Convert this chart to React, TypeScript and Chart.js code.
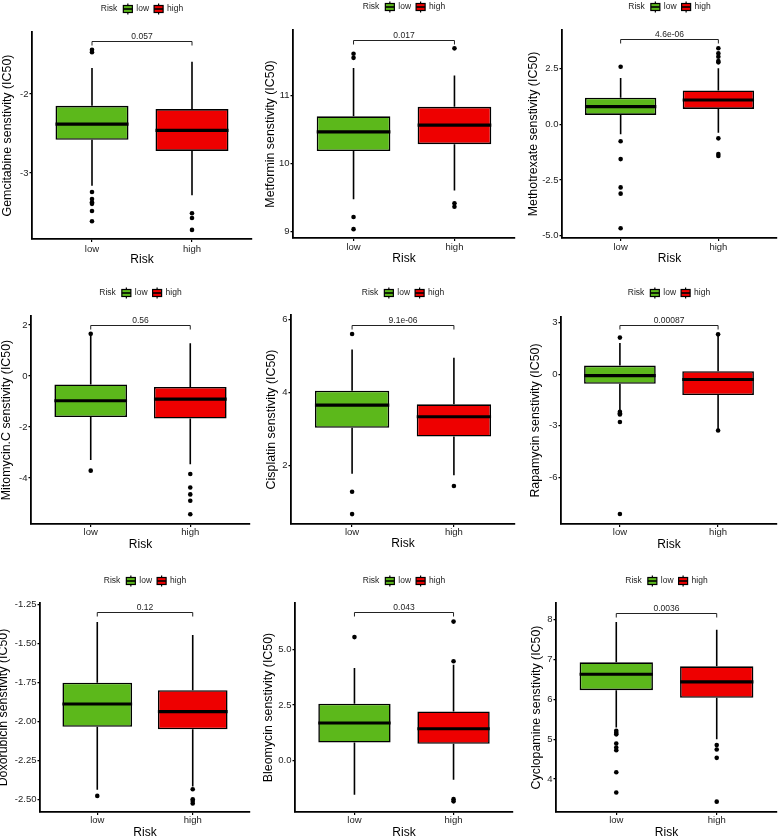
import React, { useEffect, useRef } from "react";
import { Chart, registerables } from "chart.js";

Chart.register(...registerables);

const FONT = "'Liberation Sans', Arial, Helvetica, sans-serif";

const groups = ["low", "high"];
const groupColors = ["#5CB81B", "#EE0000"];
const drugs = [
  "Gemcitabine",
  "Metformin",
  "Methotrexate",
  "Mitomycin.C",
  "Cisplatin",
  "Rapamycin",
  "Doxorubicin",
  "Bleomycin",
  "Cyclopamine",
];
const pValues = ["0.057", "0.017", "4.6e-06", "0.56", "9.1e-06", "0.00087", "0.12", "0.043", "0.0036"];

// [lower whisker, Q1, median, Q3, upper whisker]
const lowBoxes = [
  [-3.16, -2.58, -2.38, -2.15, -1.67],
  [9.47, 10.18, 10.46, 10.69, 11.4],
  [-0.45, 0.42, 0.79, 1.19, 2.08],
  [-3.29, -1.61, -0.97, -0.33, 1.58],
  [1.78, 3.04, 3.66, 4.05, 5.18],
  [-2.09, -0.56, -0.08, 0.5, 1.82],
  [-2.438, -2.034, -1.888, -1.752, -1.363],
  [-1.55, 0.81, 1.69, 2.56, 4.17],
  [5.29, 6.23, 6.63, 6.93, 7.94],
];
const highBoxes = [
  [-3.28, -2.72, -2.46, -2.19, -1.59],
  [9.6, 10.28, 10.56, 10.83, 11.29],
  [-0.38, 0.69, 1.09, 1.52, 2.51],
  [-3.46, -1.67, -0.91, -0.43, 1.28],
  [1.74, 2.8, 3.34, 3.68, 4.95],
  [-3.2, -1.22, -0.31, 0.17, 2.25],
  [-2.417, -2.05, -1.937, -1.8, -1.446],
  [-0.87, 0.75, 1.43, 2.21, 4.32],
  [5.0, 6.04, 6.44, 6.83, 7.75],
];
const lowOutliers = [
  [-1.44, -1.47, -3.24, -3.33, -3.37, -3.39, -3.48, -3.61],
  [11.61, 11.55, 9.21, 9.03],
  [2.58, -0.76, -1.56, -2.83, -3.11, -4.66],
  [1.65, -3.71],
  [5.6, 1.29, 0.68],
  [2.13, -2.19, -2.28, -2.35, -2.79, -8.15],
  [-2.477],
  [5.57],
  [5.21, 5.16, 5.12, 4.89, 4.79, 4.72, 4.17, 3.66],
];
const highOutliers = [
  [-3.51, -3.57, -3.72],
  [11.69, 9.41, 9.36],
  [3.41, 3.18, 3.03, 2.84, 2.78, -0.63, -1.33, -1.42],
  [-3.84, -4.37, -4.64, -4.89, -5.42],
  [1.45],
  [2.32, -3.28],
  [-2.434, -2.498, -2.51, -2.525],
  [4.48, 6.27, -1.75, -1.85],
  [4.85, 4.74, 4.53, 3.43],
];
const bracketLevels = [-1.33, 11.82, 3.81, 2.0, 5.84, 2.85, -1.3, 6.69, 8.18];
const yMins = [-3.835, 8.9, -5.1, -5.8, 0.41, -8.73, -2.58, -2.33, 3.17];
const yMaxs = [-1.215, 11.96, 4.23, 2.35, 6.12, 3.33, -1.241, 7.11, 8.42];
const yTickValues = [
  [-3, -2],
  [9, 10, 11],
  [-5, -2.5, 0, 2.5],
  [-4, -2, 0, 2],
  [2, 4, 6],
  [-6, -3, 0, 3],
  [-2.5, -2.25, -2, -1.75, -1.5, -1.25],
  [0, 2.5, 5],
  [4, 5, 6, 7, 8],
];
const yTickLabels = [
  ["-3", "-2"],
  ["9", "10", "11"],
  ["-5.0", "-2.5", "0.0", "2.5"],
  ["-4", "-2", "0", "2"],
  ["2", "4", "6"],
  ["-6", "-3", "0", "3"],
  ["-2.50", "-2.25", "-2.00", "-1.75", "-1.50", "-1.25"],
  ["0.0", "2.5", "5.0"],
  ["4", "5", "6", "7", "8"],
];

// panel layout (pixels): canvas box, plot area edges, title/label centres
const PANELS = [
  { x: 0, y: 0, w: 260, h: 280, l: 32, t: 32, r: 252, b: 239, ytx: 7.5, leg: 9, xtc: 260, xkc: 249 },
  { x: 260, y: 0, w: 260, h: 280, l: 33, t: 30, r: 255, b: 238, ytx: 10.5, leg: 7, xtc: 259, xkc: 247 },
  { x: 520, y: 0, w: 261, h: 280, l: 42, t: 30, r: 257, b: 238, ytx: 14, leg: 7, xtc: 259, xkc: 247 },
  { x: 0, y: 280, w: 260, h: 280, l: 31, t: 36, r: 250, b: 244, ytx: 7, leg: 13, xtc: 264.3, xkc: 252.5 },
  { x: 260, y: 280, w: 260, h: 280, l: 31, t: 35, r: 255, b: 244, ytx: 11.5, leg: 13, xtc: 263.3, xkc: 252.3 },
  { x: 520, y: 280, w: 261, h: 280, l: 41, t: 37, r: 260, b: 244, ytx: 16, leg: 13, xtc: 264.3, xkc: 252.3 },
  { x: 0, y: 560, w: 260, h: 278, l: 40, t: 43, r: 250, b: 252, ytx: 4, leg: 21, xtc: 273, xkc: 260.7 },
  { x: 260, y: 560, w: 260, h: 278, l: 35, t: 43, r: 253, b: 252, ytx: 8.5, leg: 21, xtc: 273, xkc: 260.7 },
  { x: 520, y: 560, w: 261, h: 278, l: 36, t: 43, r: 260, b: 252, ytx: 16.7, leg: 21, xtc: 273, xkc: 260.7 },
];

function Panel({ idx }: { idx: number }) {
  const ref = useRef<HTMLCanvasElement>(null);
  const P = PANELS[idx];

  useEffect(() => {
    const canvas = ref.current;
    if (!canvas) return;
    const stats = [lowBoxes[idx], highBoxes[idx]];

    const extras = {
      id: "boxExtras",
      beforeDatasetsDraw(chart: any) {
        const { ctx } = chart;
        const x = chart.scales.x;
        const y = chart.scales.y;
        ctx.save();
        ctx.strokeStyle = "#000";
        ctx.lineWidth = 1.6;
        stats.forEach((s, j) => {
          const px = x.getPixelForValue(j + 1);
          ctx.beginPath();
          ctx.moveTo(px, y.getPixelForValue(s[0]));
          ctx.lineTo(px, y.getPixelForValue(s[1]));
          ctx.moveTo(px, y.getPixelForValue(s[3]));
          ctx.lineTo(px, y.getPixelForValue(s[4]));
          ctx.stroke();
        });
        ctx.restore();
      },
      afterDatasetsDraw(chart: any) {
        const { ctx } = chart;
        const x = chart.scales.x;
        const y = chart.scales.y;
        const meta = chart.getDatasetMeta(0);
        ctx.save();
        ctx.strokeStyle = "#000";
        ctx.lineWidth = 3.2;
        stats.forEach((s, j) => {
          const el = meta.data[j];
          const py = y.getPixelForValue(s[2]);
          ctx.beginPath();
          ctx.moveTo(el.x - el.width / 2, py);
          ctx.lineTo(el.x + el.width / 2, py);
          ctx.stroke();
        });
        const yb = Math.round(y.getPixelForValue(bracketLevels[idx])) + 0.5;
        const x1 = x.getPixelForValue(1);
        const x2 = x.getPixelForValue(2);
        ctx.strokeStyle = "#222";
        ctx.lineWidth = 1;
        ctx.beginPath();
        ctx.moveTo(x1, yb + 4);
        ctx.lineTo(x1, yb);
        ctx.lineTo(x2, yb);
        ctx.lineTo(x2, yb + 4);
        ctx.stroke();
        ctx.fillStyle = "#222";
        ctx.font = `8.5px ${FONT}`;
        ctx.textAlign = "center";
        ctx.textBaseline = "alphabetic";
        ctx.fillText(pValues[idx], (x1 + x2) / 2, yb - 2.5);
        ctx.restore();
      },
      afterDraw(chart: any) {
        const { ctx, chartArea } = chart;
        ctx.save();
        ctx.font = `8.5px ${FONT}`;
        const title = "Risk";
        const kw = 9;
        const wT = ctx.measureText(title).width;
        const wL = ctx.measureText(groups[0]).width;
        const wH = ctx.measureText(groups[1]).width;
        const total = wT + 6 + kw + 4 + wL + 5 + kw + 4 + wH;
        let xx = (chartArea.left + chartArea.right) / 2 - total / 2;
        const cy = P.leg;
        ctx.fillStyle = "#222";
        ctx.textBaseline = "middle";
        ctx.textAlign = "left";
        const key = (x0: number, color: string) => {
          ctx.strokeStyle = "#000";
          ctx.lineWidth = 1.2;
          ctx.beginPath();
          ctx.moveTo(x0 + kw / 2, cy - 5.5);
          ctx.lineTo(x0 + kw / 2, cy + 5.5);
          ctx.stroke();
          ctx.fillStyle = color;
          ctx.fillRect(x0, cy - 3.5, kw, 7);
          ctx.strokeRect(x0, cy - 3.5, kw, 7);
          ctx.lineWidth = 1.6;
          ctx.beginPath();
          ctx.moveTo(x0, cy);
          ctx.lineTo(x0 + kw, cy);
          ctx.stroke();
          ctx.fillStyle = "#222";
        };
        ctx.fillText(title, xx, cy);
        xx += wT + 6;
        key(xx, groupColors[0]);
        xx += kw + 4;
        ctx.fillText(groups[0], xx, cy);
        xx += wL + 5;
        key(xx, groupColors[1]);
        xx += kw + 4;
        ctx.fillText(groups[1], xx, cy);
        ctx.restore();
      },
    };

    const chart = new Chart(canvas, {
      type: "bar",
      data: {
        datasets: [
          {
            type: "bar",
            data: stats.map((s, j) => ({ x: j + 1, y: [s[1], s[3]] })) as any,
            backgroundColor: groupColors,
            borderColor: "#000",
            borderWidth: 1.6,
            borderSkipped: false,
            barPercentage: 0.73,
            categoryPercentage: 1,
          },
          {
            type: "scatter",
            data: [
              ...lowOutliers[idx].map((v) => ({ x: 1, y: v })),
              ...highOutliers[idx].map((v) => ({ x: 2, y: v })),
            ],
            pointRadius: 2.3,
            pointBackgroundColor: "#000",
            pointBorderWidth: 0,
            showLine: false,
          } as any,
        ],
      },
      options: {
        responsive: false,
        animation: false,
        devicePixelRatio: 1,
        layout: { padding: { top: P.t, right: P.w - P.r, left: 0, bottom: 0 } },
        plugins: { legend: { display: false }, tooltip: { enabled: false } },
        scales: {
          x: {
            type: "linear",
            min: 0.4,
            max: 2.6,
            offset: false,
            afterBuildTicks: (s: any) => {
              s.ticks = groups.map((_, k) => ({ value: k + 1 }));
            },
            afterFit: (s: any) => {
              s.height = P.h - P.b;
            },
            ticks: {
              autoSkip: false,
              maxRotation: 0,
              callback: (v: any) => groups[Math.round(Number(v)) - 1] ?? "",
              font: { family: FONT, size: 9.5 },
              color: "#222",
              padding: P.xkc - P.b - 3 - 5.7,
            },
            grid: {
              display: true,
              drawOnChartArea: false,
              drawTicks: true,
              tickLength: 3,
              color: "#000",
              lineWidth: 1.2,
              offset: false,
            },
            border: { display: true, color: "#000", width: 1.8 },
            title: {
              display: true,
              text: "Risk",
              font: { family: FONT, size: 12 },
              color: "#000",
              padding: { top: 0, bottom: P.h - P.xtc - 7.2 },
            },
          } as any,
          y: {
            type: "linear",
            min: yMins[idx],
            max: yMaxs[idx],
            afterBuildTicks: (s: any) => {
              s.ticks = yTickValues[idx].map((v) => ({ value: v }));
            },
            afterFit: (s: any) => {
              s.width = P.l;
            },
            ticks: {
              autoSkip: false,
              callback: (v: any) => {
                const k = yTickValues[idx].findIndex((t) => Math.abs(t - Number(v)) < 1e-9);
                return k >= 0 ? yTickLabels[idx][k] : "";
              },
              font: { family: FONT, size: 9.5 },
              color: "#222",
              padding: 1,
            },
            grid: {
              display: true,
              drawOnChartArea: false,
              drawTicks: true,
              tickLength: 2.5,
              color: "#000",
              lineWidth: 1.2,
            },
            border: { display: true, color: "#000", width: 1.8 },
            title: {
              display: true,
              text: `${drugs[idx]} senstivity (IC50)`,
              font: { family: FONT, size: 12.4 },
              color: "#000",
              padding: { top: P.ytx - 7.44, bottom: 0 },
            },
          } as any,
        },
      },
      plugins: [extras],
    });
    return () => chart.destroy();
  }, [idx]);

  return (
    <div style={{ position: "absolute", left: P.x, top: P.y, width: P.w, height: P.h }}>
      <canvas ref={ref} width={P.w} height={P.h} style={{ display: "block" }} />
    </div>
  );
}

export default function App() {
  return (
    <div
      style={{
        position: "absolute",
        left: 0,
        top: 0,
        width: 781,
        height: 838,
        background: "#fff",
        overflow: "hidden",
      }}
    >
      {drugs.map((_, i) => (
        <Panel key={i} idx={i} />
      ))}
    </div>
  );
}
